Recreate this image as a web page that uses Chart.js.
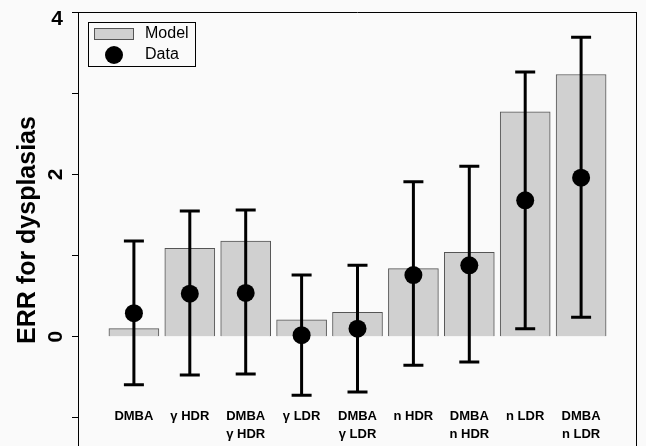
<!DOCTYPE html>
<html>
<head>
<meta charset="utf-8">
<script src="https://cdn.jsdelivr.net/npm/chart.js@4.4.1/dist/chart.umd.min.js"></script>
<style>
  html, body { margin: 0; padding: 0; background: #fafafa; overflow: hidden; }
  #wrap { width: 646px; height: 446px; overflow: hidden; }
</style>
</head>
<body>
<div id="wrap"><canvas id="chart" width="646" height="457"></canvas></div>
<script>
// categories (multi-line labels)
const categories = [
  ["DMBA"], ["\u03b3 HDR"], ["DMBA", "\u03b3 HDR"], ["\u03b3 LDR"], ["DMBA", "\u03b3 LDR"],
  ["n HDR"], ["DMBA", "n HDR"], ["n LDR"], ["DMBA", "n LDR"]
];
// model bars
const modelValues = [0.10, 1.09, 1.18, 0.21, 0.30, 0.84, 1.04, 2.77, 3.23];
// observed data points and their error limits
const dataValues = [0.29, 0.53, 0.54, 0.02, 0.10, 0.76, 0.88, 1.68, 1.96];
const errUpper = [1.18, 1.55, 1.56, 0.76, 0.88, 1.91, 2.10, 3.26, 3.69];
const errLower = [-0.59, -0.47, -0.46, -0.72, -0.68, -0.35, -0.31, 0.10, 0.24];
// y ticks and which of them carry a label
const yTicks = [-1, 0, 1, 2, 3, 4];
const yTickLabels = ["", "0", "", "2", "", "4"];

// empty slot at each end of the x axis
const pad = arr => [null].concat(arr, [null]);
const labels = [""].concat(categories, [""]);

const FONT = "'Liberation Sans', Arial, sans-serif";

// error bars drawn through the chart's scales
const errorBars = {
  id: "errorBars",
  afterDatasetsDraw(chart) {
    const ctx = chart.ctx;
    const x = chart.scales.x, y = chart.scales.y;
    ctx.save();
    ctx.strokeStyle = "#000";
    ctx.lineWidth = 3;
    for (let i = 0; i < categories.length; i++) {
      const px = x.getPixelForValue(i + 1);
      const top = y.getPixelForValue(errUpper[i]);
      const bot = y.getPixelForValue(errLower[i]);
      ctx.beginPath();
      ctx.moveTo(px, top); ctx.lineTo(px, bot);
      ctx.moveTo(px - 10, top); ctx.lineTo(px + 10, top);
      ctx.moveTo(px - 10, bot); ctx.lineTo(px + 10, bot);
      ctx.stroke();
    }
    ctx.restore();
  }
};

// y tick labels: the top one upright, the others turned like the title
const yLabels = {
  id: "yLabels",
  afterDraw(chart) {
    const ctx = chart.ctx;
    const y = chart.scales.y;
    ctx.save();
    ctx.fillStyle = "#000";
    ctx.font = "bold 21px " + FONT;
    yTicks.forEach((v, i) => {
      const txt = yTickLabels[i];
      if (!txt) return;
      const py = y.getPixelForValue(v);
      if (v === y.max) {
        ctx.textAlign = "right";
        ctx.textBaseline = "middle";
        ctx.fillText(txt, y.right - 15, py + 7);
      } else {
        ctx.save();
        ctx.translate(y.right - 22, py);
        ctx.rotate(-Math.PI / 2);
        ctx.textAlign = "center";
        ctx.textBaseline = "middle";
        ctx.fillText(txt, 0, 0);
        ctx.restore();
      }
    });
    ctx.restore();
  }
};

// frame (top/right) and inset legend
const frameAndLegend = {
  id: "frameAndLegend",
  afterDraw(chart) {
    const ctx = chart.ctx;
    const a = chart.chartArea;
    ctx.save();
    ctx.strokeStyle = "#000";
    ctx.lineWidth = 1;
    ctx.beginPath();
    ctx.moveTo(a.left, a.top + 0.5); ctx.lineTo(a.right, a.top + 0.5);
    ctx.moveTo(a.right - 0.5, a.top); ctx.lineTo(a.right - 0.5, a.bottom);
    ctx.stroke();

    const ds = chart.data.datasets;
    const bar = ds.find(d => d.type === "bar");
    const pts = ds.find(d => d.type === "line");
    ctx.strokeRect(88.5, 22.5, 107, 44);
    ctx.fillStyle = bar.backgroundColor;
    ctx.fillRect(94, 28, 39, 11);
    ctx.strokeStyle = bar.borderColor;
    ctx.strokeRect(94.5, 28.5, 39, 11);
    ctx.fillStyle = pts.pointBackgroundColor;
    ctx.beginPath();
    ctx.arc(114, 55, 9, 0, Math.PI * 2);
    ctx.fill();
    ctx.fillStyle = "#000";
    ctx.font = "16px " + FONT;
    ctx.textBaseline = "middle";
    ctx.fillText(bar.label, 145, 34);
    ctx.fillText(pts.label, 145, 55);
    ctx.restore();
  }
};

new Chart(document.getElementById("chart"), {
  data: {
    labels: labels,
    datasets: [
      {
        type: "line",
        label: "Data",
        data: pad(dataValues),
        showLine: false,
        pointRadius: 9,
        pointHoverRadius: 9,
        pointBackgroundColor: "#000",
        pointBorderColor: "#000",
        pointBorderWidth: 0,
        order: 1
      },
      {
        type: "bar",
        label: "Model",
        data: pad(modelValues),
        backgroundColor: "#d0d0d0",
        borderColor: "#555555",
        borderWidth: 1,
        borderSkipped: "bottom",
        barThickness: 50,
        order: 2
      }
    ]
  },
  options: {
    responsive: false,
    animation: false,
    events: [],
    layout: { padding: { top: 12, right: 1, left: 0, bottom: 0 } },
    plugins: { legend: { display: false }, tooltip: { enabled: false } },
    scales: {
      x: {
        type: "category",
        offset: false,
        position: { y: -0.86 },
        grid: { display: false, drawTicks: false },
        border: { display: false },
        ticks: {
          color: "#000",
          padding: 0,
          maxRotation: 0,
          autoSkip: false,
          font: { family: FONT, size: 13, weight: "bold", lineHeight: 1.45 }
        }
      },
      y: {
        min: -1.37,
        max: 4,
        afterBuildTicks: s => { s.ticks = yTicks.map(v => ({ value: v })); },
        afterFit: s => { s.width = 78; },
        grid: { drawOnChartArea: false, drawTicks: true, tickLength: 6, color: "#000" },
        border: { display: true, color: "#000", width: 1 },
        ticks: { display: false },
        title: {
          display: true,
          text: "ERR for dysplasias",
          color: "#000",
          padding: { top: 13, bottom: 0 },
          font: { family: FONT, size: 25, weight: "bold" }
        }
      }
    }
  },
  plugins: [errorBars, yLabels, frameAndLegend]
});
</script>
</body>
</html>
